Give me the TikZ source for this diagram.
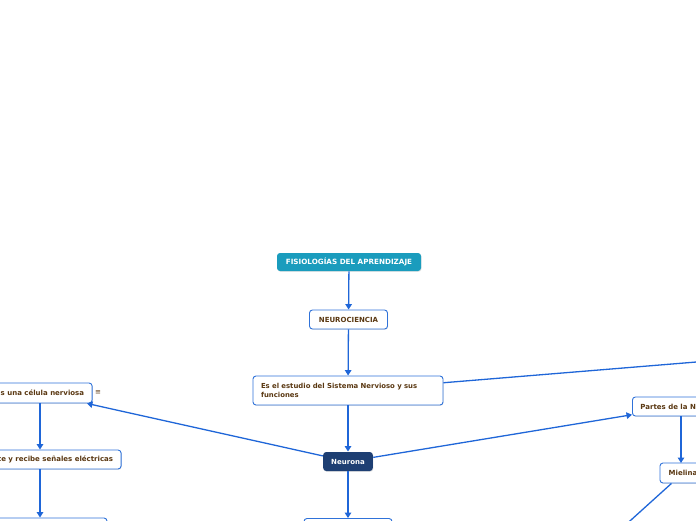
\documentclass[tikz,border=0pt]{standalone}
\usepackage{fontspec}
\setmainfont{DejaVu Sans}
\usetikzlibrary{arrows.meta,shadows}
\hyphenpenalty=10000

\definecolor{mapteal}{HTML}{1A9CBD}
\definecolor{mapnavy}{HTML}{1E3F73}
\definecolor{mapline}{HTML}{1F66D8}
\definecolor{mapborder}{HTML}{2F72D9}
\definecolor{maptext}{HTML}{5A3812}

\tikzset{
  idea/.style={draw=mapborder, line width=0.9pt, rounded corners=3pt, fill=white, text=maptext,
    font=\fontsize{7}{9}\selectfont\bfseries, inner xsep=8pt, inner ysep=0pt, minimum height=19pt,
    drop shadow={opacity=0.2, shadow xshift=0.6pt, shadow yshift=-0.8pt}},
  rootidea/.style={idea, draw=none, fill=mapteal, text=white},
  keyidea/.style={idea, draw=none, fill=mapnavy, text=white},
  link/.style={draw=mapline, line width=1.3pt, -{Triangle[length=5.5pt, width=6.5pt]}},
  plainlink/.style={draw=mapline, line width=1.3pt},
}

\begin{document}
\begin{tikzpicture}[x=1pt, y=-1pt]
\useasboundingbox (0,0) rectangle (696,520);
\clip (0,0) rectangle (696,520);

%LEVEL 0
\node [rootidea, minimum width=144pt, minimum height=18pt, font=\fontsize{7.2}{9}\selectfont\bfseries] (fisio) at (349,262) {FISIOLOGÍAS DEL APRENDIZAJE};

%LEVEL 1
\node [idea, minimum width=78pt] (neuro) at (348.5,319.5) {NEUROCIENCIA};
\node [idea, text width=174pt, align=left, minimum height=29pt, font=\fontsize{6.9}{9}\selectfont\bfseries] (estudio) at (348,390.5) {Es el estudio del Sistema Nervioso y sus funciones};

%LEVEL 2
\node [keyidea, minimum width=49pt] (neurona) at (348,461.5) {Neurona};
\coordinate (lejos) at (800,353.5);

%LEFT BRANCH
\node [idea, minimum width=104pt, minimum height=20pt] (celula) at (40,393) {Es una célula nerviosa};
\node [text=maptext, font=\fontsize{7}{8}\selectfont] (nota) at (98,393) {≡};
\node [idea, minimum width=162pt] (senales) at (40,459.5) {Transmite y recibe señales eléctricas};
\node [idea, minimum width=134pt, minimum height=20pt] (abajoizq) at (40,528) {};

%BOTTOM
\node [idea, minimum width=88pt, minimum height=20pt] (abajo) at (348,528.5) {};

%RIGHT BRANCH
\node [idea, anchor=west] (partes) at (632,406.5) {Partes de la Neurona};
\node [idea, minimum width=46pt, minimum height=20pt] (mielina) at (683,473) {Mielina};
\coordinate (mas) at (600,548);

%CONNECTORS
\draw [link] (fisio) -- (neuro);
\draw [link] (neuro) -- (estudio);
\draw [link] (estudio) -- (neurona);
\draw [plainlink] (estudio) -- (lejos);
\draw [link] (neurona) -- (celula);
\draw [link] (neurona) -- (partes);
\draw [link] (neurona) -- (abajo);
\draw [link] (celula) -- (senales);
\draw [link] (senales) -- (abajoizq);
\draw [link] (partes.south -| 681,0) -- (681,463);
\draw [plainlink] (mielina) -- (mas);

\end{tikzpicture}
\end{document}
